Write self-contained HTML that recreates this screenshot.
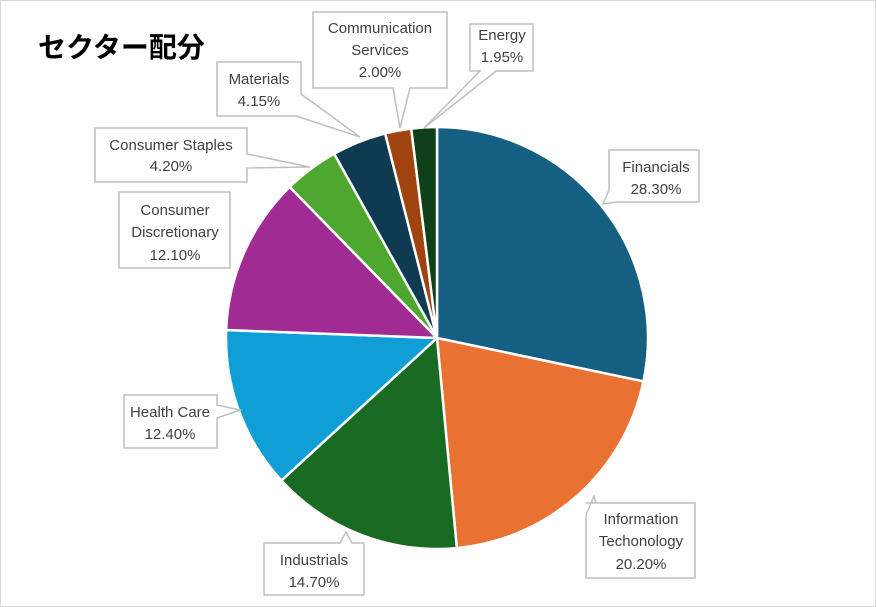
<!DOCTYPE html>
<html><head><meta charset="utf-8"><style>
body{margin:0;background:#fff}
svg{display:block}
text{font-family:"Liberation Sans","Noto Sans CJK JP",sans-serif;fill:#404040;font-size:15px}
</style></head><body>
<svg id="s" width="876" height="607" viewBox="0 0 876 607">
<rect x="0.5" y="0.5" width="875" height="606" fill="#fff" stroke="#d9d9d9"/>
<text x="38" y="57" style="font-size:28px;font-weight:bold;fill:#000">セクター配分</text>
<g id="pie"></g>
<g fill="#fff" stroke="#bfbfbf" stroke-width="1.5">
<polygon points="609,150 699,150 699,202 617,202 603,204 609,190"/>
<polygon points="586,503 695,503 695,578 586,578 586,515 594,496 596,503"/>
<polygon points="264,543 340,543 346,532 352,543 364,543 364,595 264,595"/>
<polygon points="124,395 217,395 217,405 240,410 217,418 217,448 124,448"/>
<polygon points="119,192 230,192 230,268 119,268"/>
<polygon points="95,128 247,128 247,154 310,167 247,168 247,182 95,182"/>
<polygon points="217,62 301,62 301,94 360,137 296,116 217,116"/>
<polygon points="313,12 447,12 447,88 410,88 400,128 393,88 313,88"/>
<polygon points="470,24 533,24 533,71 496,71 424,128 480,71 470,71"/>
</g>
<g text-anchor="middle">
<text x="656" y="172">Financials</text><text x="656" y="194">28.30%</text>
<text x="641" y="524">Information</text><text x="641" y="546">Techonology</text><text x="641" y="569">20.20%</text>
<text x="314" y="565">Industrials</text><text x="314" y="587">14.70%</text>
<text x="170" y="417">Health Care</text><text x="170" y="439">12.40%</text>
<text x="175" y="215">Consumer</text><text x="175" y="237">Discretionary</text><text x="175" y="260">12.10%</text>
<text x="171" y="150">Consumer Staples</text><text x="171" y="171">4.20%</text>
<text x="259" y="84">Materials</text><text x="259" y="106">4.15%</text>
<text x="380" y="33">Communication</text><text x="380" y="55">Services</text><text x="380" y="77">2.00%</text>
<text x="502" y="40">Energy</text><text x="502" y="62">1.95%</text>
</g>
</svg>
<script>
var d=[[28.3,"#156082"],[20.2,"#e97132"],[14.7,"#196b24"],[12.4,"#0f9ed5"],[12.1,"#a02b93"],[4.2,"#4ea72e"],[4.15,"#0e3a52"],[2.0,"#a0430f"],[1.95,"#10401a"]];
var cx=437,cy=338,r=211,a=0,h="";
d.forEach(function(e){var a1=a+e[0]/100*2*Math.PI;
var x0=cx+r*Math.sin(a),y0=cy-r*Math.cos(a),x1=cx+r*Math.sin(a1),y1=cy-r*Math.cos(a1);
h+='<path d="M'+cx+','+cy+'L'+x0+','+y0+'A'+r+','+r+' 0 '+(a1-a>Math.PI?1:0)+' 1 '+x1+','+y1+'Z" fill="'+e[1]+'" stroke="#fff" stroke-width="2.5" stroke-linejoin="round"/>';a=a1;});
document.getElementById("pie").innerHTML=h;
</script>
</body></html>
